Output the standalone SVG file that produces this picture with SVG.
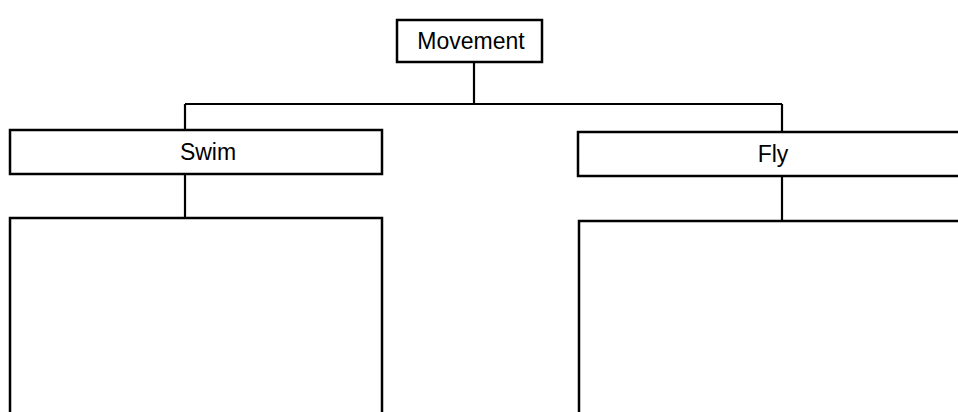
<svg xmlns="http://www.w3.org/2000/svg" width="958" height="412" viewBox="0 0 958 412">
<style>
.box{fill:#fff;stroke:#000;stroke-width:2.5}
.con{fill:none;stroke:#000;stroke-width:2.2}
.lbl{font-family:"Liberation Sans",Arial,sans-serif;font-size:23px;fill:#000;text-anchor:middle;dominant-baseline:central}
</style>
<rect width="958" height="412" fill="#fff"/>
<g id="connectors">
<path class="con" d="M474,62 V104 M185,104 H782 M185,104 V130 M782,104 V132 M185,174 V218 M782,176 V221"/>
</g>
<g id="movement">
<rect class="box" x="397" y="20" width="145" height="42"/>
<text class="lbl" x="471" y="41">Movement</text>
</g>
<g id="swim">
<rect class="box" x="10" y="130" width="372" height="44"/>
<text class="lbl" x="208" y="152">Swim</text>
</g>
<g id="fly">
<rect class="box" x="578" y="132" width="390" height="44"/>
<text class="lbl" x="773" y="154">Fly</text>
</g>
<g id="swim-list">
<rect class="box" x="10" y="218" width="372" height="210"/>
</g>
<g id="fly-list">
<rect class="box" x="579" y="221" width="390" height="210"/>
</g>
</svg>
